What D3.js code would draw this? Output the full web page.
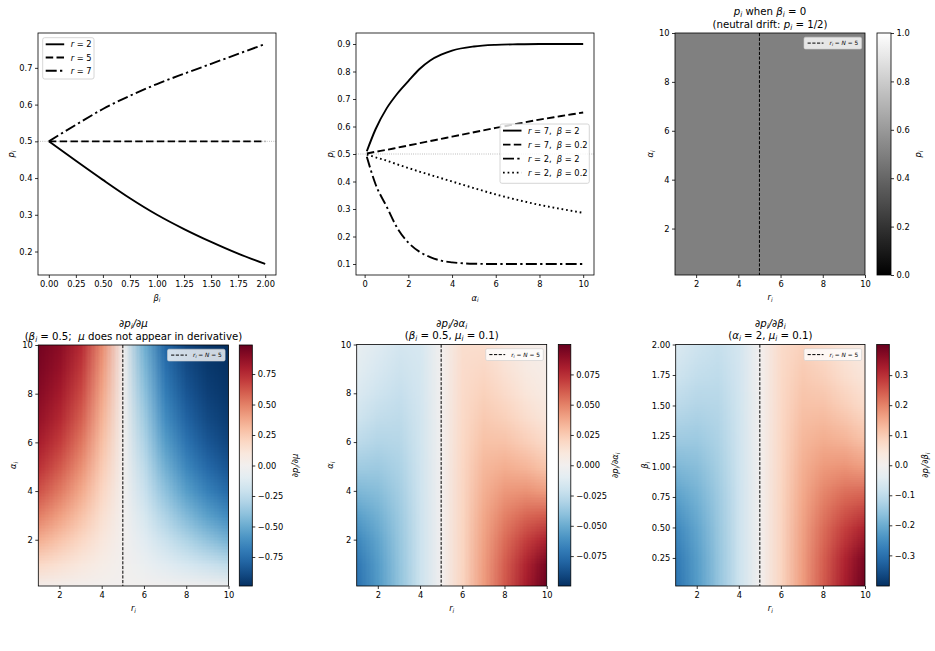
<!DOCTYPE html>
<html>
<head>
<meta charset="utf-8">
<script src="https://cdn.jsdelivr.net/npm/d3@7"></script>
<style>
  body { margin: 0; background: #fff; }
  text { font-family: "DejaVu Sans", sans-serif; white-space: pre; }
</style>
</head>
<body>
<script>
// ---- data ----
// top left: p_i against beta_i
var betaVals = [0, 0.25, 0.5, 0.75, 1.0, 1.25, 1.5, 1.75, 2.0];
var pBetaR2 = [0.5, 0.447, 0.395, 0.345, 0.300, 0.261, 0.226, 0.194, 0.166];
var pBetaR5 = [0.5, 0.5, 0.5, 0.5, 0.5, 0.5, 0.5, 0.5, 0.5];
var pBetaR7 = [0.5, 0.545, 0.588, 0.624, 0.656, 0.684, 0.711, 0.738, 0.765];

// top middle: p_i against alpha_i
var alphaVals = [0.1, 0.5, 1, 1.5, 2, 2.5, 3, 3.5, 4, 5, 6, 7, 8, 9, 10];
var pAlphaR7B2 = [0.51, 0.59, 0.665, 0.72, 0.765, 0.808, 0.84, 0.861, 0.876, 0.891, 0.897, 0.899, 0.9, 0.9, 0.9];
var pAlphaR7B02 = [0.502, 0.508, 0.515, 0.523, 0.531, 0.539, 0.547, 0.555, 0.563, 0.579, 0.595, 0.61, 0.625, 0.638, 0.651];
var pAlphaR2B2 = [0.49, 0.39, 0.31, 0.23, 0.178, 0.145, 0.125, 0.112, 0.106, 0.101, 0.1, 0.1, 0.1, 0.1, 0.1];
var pAlphaR2B02 = [0.498, 0.488, 0.476, 0.462, 0.449, 0.436, 0.424, 0.412, 0.4, 0.376, 0.353, 0.333, 0.315, 0.3, 0.286];
var pRef = 0.5;

// heatmap grids: rows go up the y axis, columns are r_i = 1..10
var rNodes = [1, 2, 3, 4, 5, 6, 7, 8, 9, 10];
var alphaNodes = [0, 1, 2, 3, 4, 5, 6, 7, 8, 9, 10];
var betaNodes = [0, 0.25, 0.5, 0.75, 1.0, 1.25, 1.5, 1.75, 2.0];
var rSplit = 5;

var pNeutral = [
  [0.5, 0.5, 0.5, 0.5, 0.5, 0.5, 0.5, 0.5, 0.5, 0.5],
  [0.5, 0.5, 0.5, 0.5, 0.5, 0.5, 0.5, 0.5, 0.5, 0.5],
  [0.5, 0.5, 0.5, 0.5, 0.5, 0.5, 0.5, 0.5, 0.5, 0.5],
  [0.5, 0.5, 0.5, 0.5, 0.5, 0.5, 0.5, 0.5, 0.5, 0.5],
  [0.5, 0.5, 0.5, 0.5, 0.5, 0.5, 0.5, 0.5, 0.5, 0.5],
  [0.5, 0.5, 0.5, 0.5, 0.5, 0.5, 0.5, 0.5, 0.5, 0.5],
  [0.5, 0.5, 0.5, 0.5, 0.5, 0.5, 0.5, 0.5, 0.5, 0.5],
  [0.5, 0.5, 0.5, 0.5, 0.5, 0.5, 0.5, 0.5, 0.5, 0.5],
  [0.5, 0.5, 0.5, 0.5, 0.5, 0.5, 0.5, 0.5, 0.5, 0.5],
  [0.5, 0.5, 0.5, 0.5, 0.5, 0.5, 0.5, 0.5, 0.5, 0.5],
  [0.5, 0.5, 0.5, 0.5, 0.5, 0.5, 0.5, 0.5, 0.5, 0.5]
];

var dMu = [
  [0, 0, 0, 0, 0, 0, 0, 0, 0, 0],
  [0.183, 0.142, 0.097, 0.05, 0, -0.052, -0.105, -0.154, -0.202, -0.25],
  [0.354, 0.277, 0.193, 0.1, 0, -0.104, -0.206, -0.301, -0.388, -0.467],
  [0.504, 0.403, 0.284, 0.149, 0, -0.156, -0.304, -0.435, -0.542, -0.633],
  [0.629, 0.515, 0.371, 0.197, 0, -0.207, -0.395, -0.552, -0.674, -0.77],
  [0.728, 0.612, 0.452, 0.245, 0, -0.257, -0.479, -0.65, -0.772, -0.855],
  [0.804, 0.694, 0.526, 0.291, 0, -0.305, -0.556, -0.731, -0.843, -0.91],
  [0.861, 0.761, 0.593, 0.336, 0, -0.351, -0.624, -0.795, -0.893, -0.944],
  [0.901, 0.814, 0.653, 0.38, 0, -0.395, -0.685, -0.846, -0.928, -0.966],
  [0.931, 0.857, 0.705, 0.422, 0, -0.438, -0.737, -0.884, -0.952, -0.979],
  [0.952, 0.890, 0.751, 0.462, 0, -0.478, -0.782, -0.914, -0.967, -0.988]
];

var dAlpha = [
  [-0.074, -0.057, -0.039, -0.02, 0, 0.021, 0.042, 0.062, 0.082, 0.0997],
  [-0.0715, -0.0559, -0.0386, -0.02, 0, 0.0209, 0.0415, 0.0605, 0.0787, 0.0956],
  [-0.0648, -0.0526, -0.0375, -0.0198, 0, 0.0208, 0.0402, 0.0564, 0.0696, 0.0798],
  [-0.0552, -0.0478, -0.0359, -0.0196, 0, 0.0205, 0.0381, 0.0503, 0.0579, 0.0611],
  [-0.0447, -0.0419, -0.0336, -0.0192, 0, 0.0201, 0.0354, 0.0431, 0.0448, 0.0415],
  [-0.0348, -0.0356, -0.031, -0.0188, 0, 0.0196, 0.0324, 0.0358, 0.0331, 0.0274],
  [-0.0262, -0.0295, -0.0282, -0.0183, 0, 0.019, 0.029, 0.0289, 0.0237, 0.0175],
  [-0.0192, -0.024, -0.0253, -0.0177, 0, 0.0184, 0.0257, 0.0228, 0.0166, 0.0111],
  [-0.0139, -0.0192, -0.0224, -0.0171, 0, 0.0177, 0.0223, 0.0176, 0.0114, 0.0068],
  [-0.0098, -0.0152, -0.0196, -0.0164, 0, 0.017, 0.0192, 0.0136, 0.0077, 0.0043],
  [-0.007, -0.0119, -0.017, -0.0157, 0, 0.0162, 0.0163, 0.0102, 0.0053, 0.0024]
];

var dBeta = [
  [-0.296, -0.228, -0.156, -0.08, 0, 0.084, 0.168, 0.248, 0.328, 0.40],
  [-0.286, -0.224, -0.154, -0.08, 0, 0.084, 0.166, 0.242, 0.315, 0.382],
  [-0.259, -0.21, -0.15, -0.079, 0, 0.083, 0.161, 0.226, 0.278, 0.319],
  [-0.221, -0.191, -0.144, -0.078, 0, 0.082, 0.152, 0.201, 0.232, 0.244],
  [-0.179, -0.168, -0.134, -0.077, 0, 0.08, 0.142, 0.172, 0.179, 0.166],
  [-0.139, -0.142, -0.124, -0.075, 0, 0.078, 0.13, 0.143, 0.132, 0.11],
  [-0.105, -0.118, -0.113, -0.073, 0, 0.076, 0.116, 0.116, 0.095, 0.07],
  [-0.077, -0.096, -0.101, -0.071, 0, 0.074, 0.103, 0.091, 0.066, 0.044],
  [-0.056, -0.077, -0.09, -0.068, 0, 0.071, 0.089, 0.07, 0.046, 0.027]
];

// colour bar limits and ticks
var neutralLim = [0, 1];
var muLim = 0.988, alphaLim = 0.0997, betaLim = 0.402;
var neutralTicks = [0, 0.2, 0.4, 0.6, 0.8, 1.0];
var muTicks = [-0.75, -0.5, -0.25, 0, 0.25, 0.5, 0.75];
var alphaTicks = [-0.075, -0.05, -0.025, 0, 0.025, 0.05, 0.075];
var betaTicks = [-0.3, -0.2, -0.1, 0, 0.1, 0.2, 0.3];

// axis ticks
var betaAxisTicks = [0, 0.25, 0.5, 0.75, 1.0, 1.25, 1.5, 1.75, 2.0];
var p1Ticks = [0.2, 0.3, 0.4, 0.5, 0.6, 0.7];
var alphaAxisTicks = [0, 2, 4, 6, 8, 10];
var p2Ticks = [0.1, 0.2, 0.3, 0.4, 0.5, 0.6, 0.7, 0.8, 0.9];
var rTicks = [2, 4, 6, 8, 10];
var alphaHeatTicks = [2, 4, 6, 8, 10];
var betaHeatTicks = [0.25, 0.5, 0.75, 1.0, 1.25, 1.5, 1.75, 2.0];
var alphaRange = [0.1, 10], betaRange = [0.02, 2], rRange = [1, 10];

// ---- drawing ----
var W = 935, H = 651, FS = 8.3, TFS = 10.2;
var svg = d3.select("body").append("svg")
    .attr("width", W)
    .attr("height", H)
    .style("background", "#fff");

// parts: [text, kind] kind "" upright, "i" italic, "s" italic subscript
function mtext(sel, parts, fs) {
  var shift = 0;
  parts.forEach(function(p) {
    var t = sel.append("tspan").text(p[0]);
    var sub = p[1] === "s";
    if (p[1] === "i" || sub) t.attr("font-style", "italic");
    var target = sub ? fs * 0.2 : 0;
    if (target !== shift) { t.attr("dy", target - shift); shift = target; }
    if (sub) t.attr("font-size", fs * 0.7);
  });
}

function label(x, y, parts, fs, rotate, anchor) {
  var t = svg.append("text")
      .attr("x", x).attr("y", y)
      .attr("xml:space", "preserve")
      .attr("text-anchor", anchor || "middle")
      .attr("font-size", fs)
      .attr("fill", "#000");
  if (rotate) t.attr("transform", "rotate(" + rotate + "," + x + "," + y + ")");
  mtext(t, parts, fs);
  return t;
}

function frame(box) {
  svg.append("rect")
      .attr("x", box.l).attr("y", box.t)
      .attr("width", box.r - box.l).attr("height", box.b - box.t)
      .attr("fill", "none").attr("stroke", "#000").attr("stroke-width", 0.8);
}

function addAxis(gen, tx, ty, values, fmt, pad) {
  var g = svg.append("g")
      .attr("transform", "translate(" + tx + "," + ty + ")")
      .call(gen.tickValues(values).tickFormat(d3.format(fmt))
        .tickSizeOuter(0).tickSize(3).tickPadding(pad));
  g.select(".domain").remove();
  g.attr("font-size", FS).attr("font-family", "DejaVu Sans");
  g.selectAll(".tick line").attr("stroke-width", 0.8);
  g.selectAll(".tick text").attr("fill", "#000");
  return g;
}

function padded(ext) {
  var d = (ext[1] - ext[0]) * 0.05;
  return [ext[0] - d, ext[1] + d];
}

var dashes = {
  solid: null,
  dashed: "7.5,3.3",
  dashdot: "11,3.3,2.3,3.3",
  dotted: "1.7,2.9"
};

function linePanel(box, xs, series, xTicks, xFmt, yTicks, yFmt, xLab, yLab, leg) {
  var all = [];
  series.forEach(function(s) { all = all.concat(s.values); });
  var x = d3.scaleLinear().domain(padded(d3.extent(xs))).range([box.l, box.r]);
  var y = d3.scaleLinear().domain(padded(d3.extent(all))).range([box.b, box.t]);

  svg.append("line")
      .attr("x1", box.l).attr("x2", box.r)
      .attr("y1", y(pRef)).attr("y2", y(pRef))
      .attr("stroke", "#999").attr("stroke-width", 0.8)
      .attr("stroke-dasharray", "0.8,1.4");

  var line = d3.line()
      .x(function(d, i) { return x(xs[i]); })
      .y(function(d) { return y(d); })
      .curve(d3.curveMonotoneX);

  series.forEach(function(s) {
    svg.append("path")
        .attr("d", line(s.values))
        .attr("fill", "none")
        .attr("stroke", "#000")
        .attr("stroke-width", 1.9)
        .attr("stroke-dasharray", dashes[s.dash]);
  });

  frame(box);
  addAxis(d3.axisBottom(x), 0, box.b, xTicks, xFmt, 3.5);
  addAxis(d3.axisLeft(y), box.l, 0, yTicks, yFmt, 2.5);
  label((box.l + box.r) / 2, box.b + 25.5, xLab, FS);
  label(yLab.x, (box.t + box.b) / 2, [["p", "i"], ["i", "s"]], FS, -90);

  // legend
  svg.append("rect")
      .attr("x", leg.x).attr("y", leg.y)
      .attr("width", leg.w).attr("height", leg.h).attr("rx", 2)
      .attr("fill", "#fff").attr("fill-opacity", 0.8)
      .attr("stroke", "#ccc").attr("stroke-width", 0.8);
  series.forEach(function(s, i) {
    var cy = leg.y + 6.6 + i * leg.step;
    svg.append("line")
        .attr("x1", leg.x + 3).attr("x2", leg.x + 21.5)
        .attr("y1", cy).attr("y2", cy)
        .attr("stroke", "#000").attr("stroke-width", 1.9)
        .attr("stroke-dasharray", dashes[s.dash]);
    label(leg.x + 28, cy + 3, s.label, FS, 0, "start");
  });
}

var heatCount = 0;
function heatPanel(o) {
  var box = o.box, cb = o.cb;
  var x = d3.scaleLinear().domain(rRange).range([box.l, box.r]);
  var y = d3.scaleLinear().domain(o.yRange).range([box.b, box.t]);
  var color = o.color;
  heatCount++;

  // grid painted as a small image, the browser smooths it while scaling
  var xs = rNodes, ys = o.yNodes;
  var cv = document.createElement("canvas");
  cv.width = xs.length; cv.height = ys.length;
  var ctx = cv.getContext("2d");
  var img = ctx.createImageData(cv.width, cv.height);
  o.grid.forEach(function(row, j) {
    row.forEach(function(v, i) {
      var c = d3.rgb(color(v));
      var k = ((ys.length - 1 - j) * xs.length + i) * 4;
      img.data[k] = c.r; img.data[k + 1] = c.g; img.data[k + 2] = c.b; img.data[k + 3] = 255;
    });
  });
  ctx.putImageData(img, 0, 0);
  var dx = xs[1] - xs[0], dy = ys[1] - ys[0];
  var x0 = x(xs[0] - dx / 2), x1 = x(xs[xs.length - 1] + dx / 2);
  var y0 = y(ys[ys.length - 1] + dy / 2), y1 = y(ys[0] - dy / 2);
  var clipId = "clip" + heatCount;
  svg.append("clipPath").attr("id", clipId).append("rect")
      .attr("x", box.l).attr("y", box.t)
      .attr("width", box.r - box.l).attr("height", box.b - box.t);
  svg.append("image")
      .attr("href", cv.toDataURL())
      .attr("x", x0).attr("y", y0)
      .attr("width", x1 - x0).attr("height", y1 - y0)
      .attr("preserveAspectRatio", "none")
      .attr("clip-path", "url(#" + clipId + ")");

  // r_i = N line
  svg.append("line")
      .attr("x1", x(rSplit)).attr("x2", x(rSplit))
      .attr("y1", box.t).attr("y2", box.b)
      .attr("stroke", "#000").attr("stroke-width", 1)
      .attr("stroke-dasharray", "3.2,1.5");

  frame(box);
  addAxis(d3.axisBottom(x), 0, box.b, rTicks, "d", 3.2);
  addAxis(d3.axisLeft(y), box.l, 0, o.yTicks, o.yFmt, 2.5);
  label((box.l + box.r) / 2, box.b + 25, [["r", "i"], ["i", "s"]], FS);
  label(o.yLabX, (box.t + box.b) / 2, o.yLab, FS, -90);

  // legend
  var lw = 57.6, lh = 11.8, lx = box.r - 3.4 - lw, ly = box.t + 4.2;
  svg.append("rect")
      .attr("x", lx).attr("y", ly).attr("width", lw).attr("height", lh).attr("rx", 1.5)
      .attr("fill", "#fff").attr("fill-opacity", 0.8)
      .attr("stroke", "#ccc").attr("stroke-width", 0.6);
  svg.append("line")
      .attr("x1", lx + 3.6).attr("x2", lx + 19.5)
      .attr("y1", ly + lh / 2).attr("y2", ly + lh / 2)
      .attr("stroke", "#000").attr("stroke-width", 1)
      .attr("stroke-dasharray", "3.2,1.5");
  label(lx + 25.5, ly + lh / 2 + 2, [["r", "i"], ["i", "s"], [" = ", ""], ["N", "i"], [" = 5", ""]], 5.8, 0, "start");

  // titles
  var cx = (box.l + box.r) / 2;
  label(cx, box.t - 18, o.title1, TFS);
  label(cx, box.t - 5.4, o.title2, TFS);

  // colour bar
  var gid = "grad" + heatCount;
  var cs = d3.scaleLinear().domain(o.cbLim).range([cb.b, cb.t]);
  var grad = svg.append("defs").append("linearGradient")
      .attr("id", gid).attr("x1", 0).attr("y1", 1).attr("x2", 0).attr("y2", 0);
  d3.range(0, 1.0001, 0.05).forEach(function(t) {
    grad.append("stop")
        .attr("offset", t)
        .attr("stop-color", color(o.cbLim[0] + t * (o.cbLim[1] - o.cbLim[0])));
  });
  svg.append("rect")
      .attr("x", cb.l).attr("y", cb.t)
      .attr("width", cb.r - cb.l).attr("height", cb.b - cb.t)
      .attr("fill", "url(#" + gid + ")")
      .attr("stroke", "#000").attr("stroke-width", 0.8);
  addAxis(d3.axisRight(cs), cb.r, 0, o.cbTicks, o.cbFmt, 2.5);
  label(o.cbLabX, (cb.t + cb.b) / 2, o.cbLab, FS, -90);
}

// top left
linePanel({l: 38, r: 276, t: 33, b: 275}, betaVals, [
  {label: [["r", "i"], [" = 2", ""]], dash: "solid", values: pBetaR2},
  {label: [["r", "i"], [" = 5", ""]], dash: "dashed", values: pBetaR5},
  {label: [["r", "i"], [" = 7", ""]], dash: "dashdot", values: pBetaR7}
], betaAxisTicks, ".2f", p1Ticks, ".1f", [["β", "i"], ["i", "s"]], {x: 14},
  {x: 42.7, y: 37.7, w: 51.3, h: 41.3, step: 13.2});

// top middle
linePanel({l: 356, r: 594, t: 33, b: 275}, alphaVals, [
  {label: [["r", "i"], [" = 7,  ", ""], ["β", "i"], [" = 2", ""]], dash: "solid", values: pAlphaR7B2},
  {label: [["r", "i"], [" = 7,  ", ""], ["β", "i"], [" = 0.2", ""]], dash: "dashed", values: pAlphaR7B02},
  {label: [["r", "i"], [" = 2,  ", ""], ["β", "i"], [" = 2", ""]], dash: "dashdot", values: pAlphaR2B2},
  {label: [["r", "i"], [" = 2,  ", ""], ["β", "i"], [" = 0.2", ""]], dash: "dotted", values: pAlphaR2B02}
], alphaAxisTicks, "d", p2Ticks, ".1f", [["α", "i"], ["i", "s"]], {x: 333},
  {x: 500, y: 124, w: 89.3, h: 59.3, step: 14});

var grey = d3.scaleLinear().domain([0, 1]).range(["#000", "#fff"]);
function rdbu(lim) {
  return d3.scaleDiverging(d3.interpolateRdBu).domain([lim, 0, -lim]).clamp(true);
}

// top right
heatPanel({
  box: {l: 675, r: 865, t: 33, b: 275}, cb: {l: 877, r: 891, t: 33, b: 275},
  yNodes: alphaNodes, yRange: alphaRange, grid: pNeutral, color: grey,
  yTicks: alphaHeatTicks, yFmt: "d", yLab: [["α", "i"], ["i", "s"]], yLabX: 653,
  title1: [["p", "i"], ["i", "s"], [" when ", ""], ["β", "i"], ["i", "s"], [" = 0", ""]],
  title2: [["(neutral drift: ", ""], ["p", "i"], ["i", "s"], [" = 1/2)", ""]],
  cbLim: neutralLim, cbTicks: neutralTicks, cbFmt: ".1f",
  cbLab: [["p", "i"], ["i", "s"]], cbLabX: 921
});

// bottom left
heatPanel({
  box: {l: 38.3, r: 228.5, t: 345, b: 586}, cb: {l: 239.3, r: 252.3, t: 345, b: 586},
  yNodes: alphaNodes, yRange: alphaRange, grid: dMu, color: rdbu(muLim),
  yTicks: alphaHeatTicks, yFmt: "d", yLab: [["α", "i"], ["i", "s"]], yLabX: 16,
  title1: [["∂", "i"], ["p", "i"], ["i", "s"], ["/∂μ", "i"]],
  title2: [["(", ""], ["β", "i"], ["i", "s"], [" = 0.5;  ", ""], ["μ", "i"], [" does not appear in derivative)", ""]],
  cbLim: [-muLim, muLim], cbTicks: muTicks, cbFmt: ".2f",
  cbLab: [["∂", "i"], ["p", "i"], ["i", "s"], ["/∂μ", "i"]], cbLabX: 298
});

// bottom middle
heatPanel({
  box: {l: 356.7, r: 546.7, t: 344.5, b: 586}, cb: {l: 558.3, r: 570.8, t: 344.5, b: 586},
  yNodes: alphaNodes, yRange: alphaRange, grid: dAlpha, color: rdbu(alphaLim),
  yTicks: alphaHeatTicks, yFmt: "d", yLab: [["α", "i"], ["i", "s"]], yLabX: 333,
  title1: [["∂", "i"], ["p", "i"], ["i", "s"], ["/∂α", "i"], ["i", "s"]],
  title2: [["(", ""], ["β", "i"], ["i", "s"], [" = 0.5, ", ""], ["μ", "i"], ["i", "s"], [" = 0.1)", ""]],
  cbLim: [-alphaLim, alphaLim], cbTicks: alphaTicks, cbFmt: ".3f",
  cbLab: [["∂", "i"], ["p", "i"], ["i", "s"], ["/∂α", "i"], ["i", "s"]], cbLabX: 618
});

// bottom right
heatPanel({
  box: {l: 675.7, r: 865, t: 344.5, b: 586}, cb: {l: 876.7, r: 889.3, t: 344.5, b: 586},
  yNodes: betaNodes, yRange: betaRange, grid: dBeta, color: rdbu(betaLim),
  yTicks: betaHeatTicks, yFmt: ".2f", yLab: [["β", "i"], ["i", "s"]], yLabX: 648,
  title1: [["∂", "i"], ["p", "i"], ["i", "s"], ["/∂β", "i"], ["i", "s"]],
  title2: [["(", ""], ["α", "i"], ["i", "s"], [" = 2, ", ""], ["μ", "i"], ["i", "s"], [" = 0.1)", ""]],
  cbLim: [-betaLim, betaLim], cbTicks: betaTicks, cbFmt: ".1f",
  cbLab: [["∂", "i"], ["p", "i"], ["i", "s"], ["/∂β", "i"], ["i", "s"]], cbLabX: 928
});
</script>
</body>
</html>
